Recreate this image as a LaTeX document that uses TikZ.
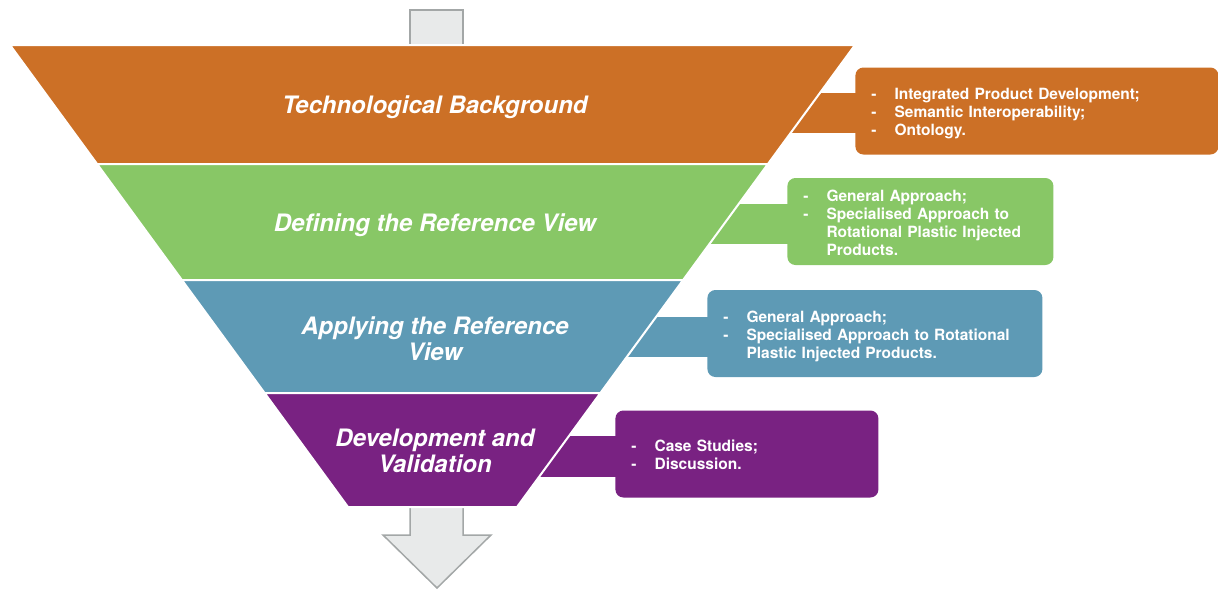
\documentclass[tikz,border=0pt]{standalone}
\usepackage{fontspec}
\setmainfont{TeX Gyre Heros}
\usepackage{tikz}
\usetikzlibrary{calc}
\pgfdeclarelayer{background}
\pgfsetlayers{background,main}
\definecolor{tborange}{HTML}{CC7026}
\definecolor{rvgreen}{HTML}{88C766}
\definecolor{rvblue}{HTML}{5E9AB5}
\definecolor{dvpurple}{HTML}{792282}
\definecolor{arrowfill}{HTML}{E8EAEA}
\definecolor{arrowline}{HTML}{A3A7A7}
\newcommand{\boxlist}[1]{\raisebox{-1.5pt}[\height][\depth]{%
	\begin{tabular}{@{}l@{\hspace{9pt}}l@{}}#1\end{tabular}}}

\begin{document}
\begin{tikzpicture}[x=0.5pt,y=-0.5pt,
		band/.style={draw=white,line width=1pt},
		title/.style={text=white,align=center,font=\fontsize{12}{13}\selectfont\bfseries\itshape},
		listbox/.style={rounded corners=4pt,text=white,anchor=west,align=left,
			inner xsep=8pt,inner ysep=0pt,minimum height=43.5pt,
			font=\fontsize{7.75}{9}\selectfont\bfseries},
		flowarrow/.style={fill=arrowfill,draw=arrowline,line width=0.75pt}]
	\useasboundingbox (0,0) rectangle (1218,590);
	\filldraw[flowarrow] (410,10) rectangle (463,50);
	\filldraw[flowarrow] (410,500) -- (410,535) -- (383,535) -- (437,588)
		-- (491,535) -- (463,535) -- (463,500) -- cycle;
	\filldraw[band,fill=tborange] (10,45) -- (855,45) -- (767.9,164) -- (97.1,164) -- cycle;
	\filldraw[band,fill=rvgreen] (97.1,164) -- (767.9,164) -- (683.1,280) -- (181.9,280) -- cycle;
	\filldraw[band,fill=rvblue] (181.9,280) -- (683.1,280) -- (600.4,393) -- (264.6,393) -- cycle;
	\filldraw[band,fill=dvpurple] (264.6,393) -- (600.4,393) -- (517,507) -- (348,507) -- cycle;
	\node[title] (t1) at (435,107) {Technological Background};
	\node[title] (t2) at (435,225) {Defining the Reference View};
	\node[title] (t3) at (435,339) {Applying the Reference\\View};
	\node[title] (t4) at (435,451) {Development and\\Validation};
	\node[listbox,fill=tborange,text width=165.5pt] (b1) at (855,111) {%
		\boxlist{- & Integrated Product Development;\\
			- & Semantic Interoperability;\\
			- & Ontology.}};
	\node[listbox,fill=rvgreen,text width=117pt] (b2) at (787,221.5) {%
		\boxlist{- & General Approach;\\
			- & Specialised Approach to\\
			  & Rotational Plastic Injected\\
			  & Products.}};
	\node[listbox,fill=rvblue,text width=151.5pt] (b3) at (707,333.5) {%
		\boxlist{- & General Approach;\\
			- & Specialised Approach to Rotational\\
			  & Plastic Injected Products.}};
	\node[listbox,fill=dvpurple,text width=115.5pt] (b4) at (615,454) {%
		\boxlist{- & Case Studies;\\
			- & Discussion.}};
	\begin{pgfonlayer}{background}
		\fill[tborange] ($(b1.west)+(-160,-18)$) rectangle ($(b1.west)+(4,22)$);
		\fill[rvgreen] ($(b2.west)+(-160,-18)$) rectangle ($(b2.west)+(4,22)$);
		\fill[rvblue] ($(b3.west)+(-160,-17)$) rectangle ($(b3.west)+(4,23)$);
		\fill[dvpurple] ($(b4.west)+(-160,-18)$) rectangle ($(b4.west)+(4,23)$);
	\end{pgfonlayer}
\end{tikzpicture}
\end{document}
